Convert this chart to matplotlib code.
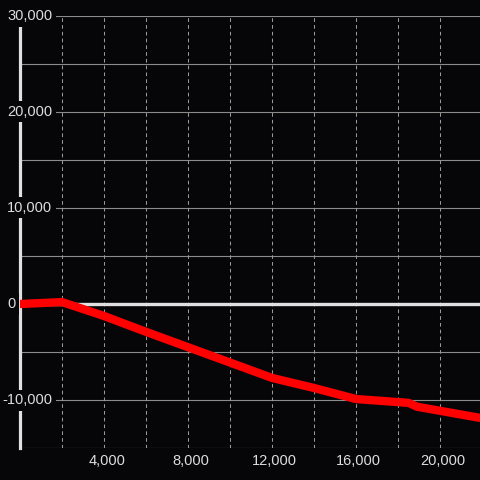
import matplotlib.pyplot as plt
import matplotlib.transforms as mtransforms
import numpy as np

# values
x_vals = [0, 2000, 4000, 6000, 8000, 10000, 12000, 14000, 16000, 18500, 18900, 22000]
y_vals = [0, 200, -1250, -2900, -4500, -6100, -7700, -8750, -9900, -10300, -10700, -11900]

y_ticks = [-10000, 0, 10000, 20000, 30000]
y_grid = [-15000, -10000, -5000, 0, 5000, 10000, 15000, 20000, 25000, 30000]
x_grid = [2000, 4000, 6000, 8000, 10000, 12000, 14000, 16000, 18000, 20000]
x_ticks = [4000, 8000, 12000, 16000, 20000]

bg = '#060609'
txt = '#dddddd'
plt.rcParams['font.family'] = ['Liberation Sans', 'DejaVu Sans']

fig = plt.figure(figsize=(4.8, 4.8), dpi=100, facecolor=bg)
ax = fig.add_axes([20/480, 32/480, 460/480, 432/480], facecolor=bg)
ax.set_xlim(0, 21900)
ax.set_ylim(-15000, 30000)

for s in ['top', 'right', 'bottom']:
    ax.spines[s].set_visible(False)
ax.spines['left'].set_color('#e0e0e0')
ax.spines['left'].set_linewidth(2.3)
ax.set_xticks([])
ax.set_yticks([])

for g in y_grid:
    ax.axhline(g, color='#8a8c8a', lw=0.8, zorder=1)
for g in x_grid:
    ax.axvline(g, color='#9a9a9a', lw=0.75, ls=(0, (3.5, 3)), zorder=1)
ax.axhline(0, color='#e0e0e0', lw=2.4, zorder=1.5)

ax.plot(x_vals, y_vals, color='#ff0000', lw=6, zorder=3,
        solid_joinstyle='miter', solid_capstyle='projecting')

# y labels sit over the plot with a dark box behind them
ty = mtransforms.blended_transform_factory(fig.transFigure, ax.transData)
for v in y_ticks:
    xpix = 7 if v >= 0 else 2
    ax.text(xpix/480, v, f'{v:,}', transform=ty, ha='left', va='center',
            color=txt, fontsize=10.5, zorder=5, clip_on=False,
            bbox=dict(facecolor=bg, edgecolor='none', pad=2.5))

tx = mtransforms.blended_transform_factory(ax.transData, fig.transFigure)
for v in x_ticks:
    ax.text(v + 130, 1 - 461/480, f'{v:,}', transform=tx, ha='center', va='center',
            color=txt, fontsize=10.5, clip_on=False)

fig.savefig('out.png', dpi=100, facecolor=bg)
